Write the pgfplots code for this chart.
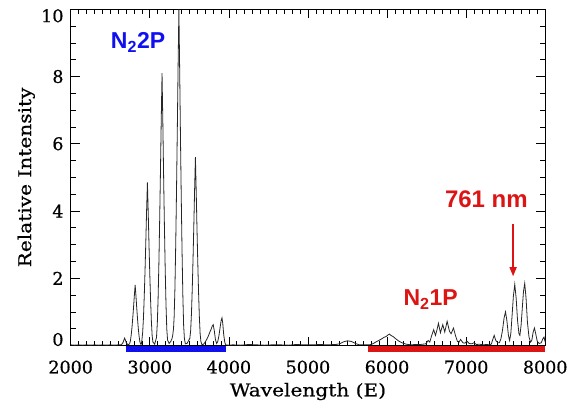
\documentclass[border=0pt]{standalone}
\usepackage{fontspec}
\usepackage{pgfplots}
\pgfplotsset{compat=1.18}
\usetikzlibrary{arrows.meta}
\setmainfont{Liberation Sans}
\newfontfamily\idl{DejaVu Serif}[FakeBold=0.6]
\newfontfamily\idlwide{DejaVu Serif}[FakeStretch=1.15, FakeBold=0.6]
\definecolor{bandblue}{RGB}{15,15,240}
\definecolor{bandred}{RGB}{220,20,20}

\begin{document}
\begin{tikzpicture}
\begin{axis}[
    scale only axis,
    width=474.5pt, height=336.2pt,
    xmin=2000, xmax=8000, ymin=0, ymax=10,
    clip=false,
    axis line style={line width=1.1pt},
    tick align=inside,
    tick style={line width=0.7pt, black},
    major tick length=9pt, minor tick length=5pt,
    xtick={2000,3000,4000,5000,6000,7000,8000},
    xticklabels={2000,3000,4000,5000,6000,7000,8000},
    minor x tick num=9,
    ytick={0,2,4,6,8,10},
    yticklabels={\raisebox{6pt}[\height][\depth]{0},2,4,6,8,\raisebox{-6.5pt}[\height][\depth]{10}},
    minor y tick num=3,
    xticklabel style={font=\idl\fontsize{17.5}{20}\selectfont, anchor=north, inner sep=0pt, yshift=-14.8pt},
    yticklabel style={font=\idl\fontsize{17.5}{20}\selectfont, anchor=east, inner sep=0pt, xshift=-7pt},
    xlabel={Wavelength (E)},
    ylabel={Relative Intensity},
    xlabel style={font=\idlwide\fontsize{17.5}{20}\selectfont, at={(axis description cs:0.5,-0.151)}, anchor=base, inner sep=0pt},
    ylabel style={font=\idlwide\fontsize{17.5}{20}\selectfont, at={(axis description cs:-0.0836,0.5)}, anchor=base, inner sep=0pt},
]

% spectrum
\addplot[black!85, line width=0.8pt] coordinates {
(2000,0.02) (2050,0.01) (2100,0.02) (2150,0.01) (2200,0.02) (2250,0.01) (2300,0.02) (2350,0.01)
(2400,0.02) (2450,0.01) (2500,0.02) (2550,0.01) (2600,0.02) (2640,0.02) (2660,0.08) (2672,0.16)
(2682,0.22) (2692,0.16) (2705,0.07) (2725,0.02)
(2745,0.05) (2755,0.14) (2765,0.31) (2775,0.54) (2785,0.83) (2795,1.15) (2805,1.49) (2815,1.80)
(2825,1.48) (2835,1.12) (2845,0.79) (2855,0.50) (2865,0.27) (2875,0.11) (2885,0.04) (2893,0.04)
(2900,0.15) (2910,0.39) (2920,0.82) (2930,1.46) (2940,2.23) (2950,3.10) (2960,4.03) (2970,4.85)
(2980,3.98) (2990,3.01) (3000,2.13) (3010,1.36) (3020,0.73) (3030,0.29) (3040,0.10) (3062,0.04)
(3085,0.24) (3095,0.65) (3105,1.38) (3115,2.43) (3125,3.73) (3135,5.18) (3145,6.72) (3155,8.10)
(3165,6.64) (3175,5.02) (3185,3.56) (3195,2.27) (3205,1.22) (3215,0.49) (3225,0.16) (3245,0.06)
(3265,0.12) (3280,0.20)
(3290,0.30) (3300,0.50) (3308,0.85) (3318,1.70) (3328,3.00) (3338,4.60) (3348,6.40) (3358,8.30)
(3368,10.0) (3378,8.20) (3388,6.20) (3398,4.40) (3408,2.80) (3418,1.50) (3428,0.60) (3438,0.20)
(3450,0.05) (3470,0.06) (3490,0.14)
(3507,0.22) (3517,0.45) (3527,0.95) (3537,1.68) (3547,2.58) (3557,3.58) (3567,4.65) (3577,5.60)
(3587,4.59) (3597,3.47) (3607,2.46) (3617,1.57) (3627,0.84) (3637,0.34) (3647,0.11) (3660,0.02)
(3680,0.04) (3700,0.10) (3720,0.18) (3740,0.28) (3760,0.40) (3775,0.48) (3790,0.58) (3802,0.62)
(3815,0.45) (3830,0.18) (3845,0.06) (3860,0.12) (3875,0.30) (3890,0.55) (3903,0.75) (3913,0.82)
(3923,0.65) (3935,0.32) (3948,0.10) (3960,0.02) (3990,0.01)
(4050,0.02) (4150,0.01) (4250,0.03) (4350,0.02) (4450,0.01) (4550,0.02) (4650,0.02) (4750,0.01)
(4850,0.03) (4950,0.02) (5050,0.02) (5150,0.03) (5250,0.02) (5350,0.03)
(5400,0.05) (5450,0.11) (5500,0.14) (5550,0.12) (5600,0.06) (5650,0.02) (5700,0.02) (5780,0.02)
(5820,0.05) (5870,0.12) (5920,0.18) (5960,0.24) (5990,0.27) (6010,0.31) (6030,0.34) (6050,0.30)
(6080,0.26) (6110,0.20) (6150,0.13) (6190,0.08) (6240,0.04) (6300,0.02) (6360,0.03) (6420,0.03)
(6490,0.05) (6520,0.15) (6540,0.10) (6565,0.30) (6590,0.47) (6612,0.30) (6630,0.45) (6650,0.66)
(6675,0.38) (6705,0.62) (6730,0.40) (6760,0.72) (6790,0.42) (6810,0.35) (6840,0.52) (6865,0.30)
(6890,0.12) (6910,0.10) (6930,0.18) (6960,0.08) (6985,0.07) (7010,0.13) (7040,0.06) (7070,0.05)
(7100,0.08) (7130,0.03) (7170,0.04) (7210,0.02) (7260,0.03) (7300,0.02)
(7320,0.05) (7340,0.20) (7355,0.30) (7375,0.15) (7400,0.08) (7420,0.08) (7440,0.20) (7460,0.45)
(7480,0.82) (7498,1.00) (7515,0.75) (7535,0.30) (7550,0.15) (7565,0.35) (7580,0.85) (7597,1.45)
(7615,1.82) (7633,1.40) (7650,0.75) (7668,0.35) (7680,0.30) (7695,0.60) (7710,1.10) (7725,1.60)
(7741,1.85) (7758,1.40) (7775,0.70) (7795,0.25) (7815,0.10) (7830,0.15) (7848,0.40) (7864,0.52)
(7880,0.35) (7900,0.12) (7925,0.06) (7950,0.08) (7970,0.20) (7985,0.25) (8000,0.10)
};

% band ranges under the axis
\fill[bandblue] (axis cs:2697,-0.015) rectangle (axis cs:3967,-0.19);
\fill[bandred] (axis cs:5753,-0.015) rectangle (axis cs:8000,-0.19);

% labels
\node[anchor=base, text=bandblue, font=\bfseries\fontsize{23}{25}\selectfont, inner sep=0pt]
    at (axis cs:2852,8.82) {N\textsubscript{2}2P};
\node[anchor=base, text=bandred, font=\bfseries\fontsize{23}{25}\selectfont, inner sep=0pt]
    at (axis cs:6552,1.19) {N\textsubscript{2}1P};
\node[anchor=base, text=bandred, font=\bfseries\fontsize{24}{26}\selectfont, inner sep=0pt]
    at (axis cs:7256,4.11) {761 nm};
\draw[draw=bandred, line width=1.3pt, -{Triangle[length=9pt, width=7pt]}]
    (axis cs:7594,3.62) -- (axis cs:7594,2.06);

% page frame as in the reference
\path (rel axis cs:0,0) ++(-70.7pt,-61.5pt) coordinate (bl);
\path (rel axis cs:1,1) ++(26.8pt,9.3pt) coordinate (tr);
\path (bl) rectangle (tr);
\end{axis}
\end{tikzpicture}
\end{document}
